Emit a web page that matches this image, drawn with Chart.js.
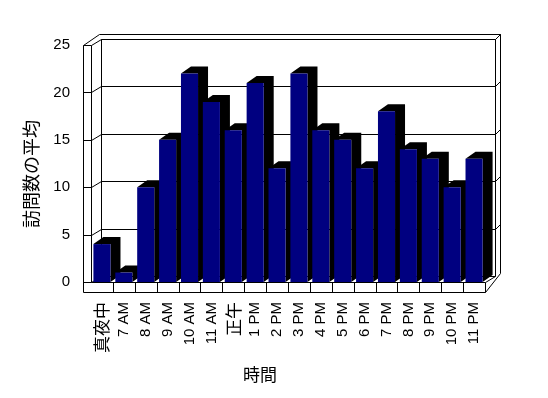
<!DOCTYPE html>
<html>
<head>
<meta charset="utf-8">
<script src="https://cdn.jsdelivr.net/npm/chart.js@4"></script>
<style>
html,body{margin:0;padding:0;background:#ffffff;}
#wrap{width:548px;height:398px;}
</style>
</head>
<body>
<div id="wrap"><canvas id="c" width="548" height="398"></canvas></div>
<script>
const categories = ['真夜中','7 AM','8 AM','9 AM','10 AM','11 AM','正午','1 PM','2 PM','3 PM','4 PM','5 PM','6 PM','7 PM','8 PM','9 PM','10 PM','11 PM'];
const visits = [4,1,10,15,22,19,16,21,12,22,16,15,12,18,14,13,10,13];
const yTicks = [0,5,10,15,20,25];
const yTitle = '訪問数の平均';
const xTitle = '時間';

const LATIN = '"Liberation Sans", Arial, sans-serif';
const CJK = '"Noto Sans CJK JP", "Noto Sans", sans-serif';

function line(ctx, x1, y1, x2, y2) {
  ctx.beginPath();
  ctx.moveTo(Math.round(x1) + 0.5, Math.round(y1) + 0.5);
  ctx.lineTo(Math.round(x2) + 0.5, Math.round(y2) + 0.5);
  ctx.stroke();
}

const box3d = {
  id: 'box3d',
  beforeDatasetsDraw(chart) {
    const ctx = chart.ctx;
    const a = chart.chartArea;
    const ys = chart.scales.y;
    const L = a.left, R = a.right;
    const B = ys.getPixelForValue(yTicks[0]);
    const T = ys.getPixelForValue(yTicks[yTicks.length - 1]);
    const DX = 10, DY = 6;     // depth of the plot box
    const WT = 8;              // left wall thickness (front)
    const FT = 10;             // floor thickness (front)
    const BT = 5;              // back wall thickness
    ctx.save();
    ctx.strokeStyle = '#000';
    ctx.lineWidth = 1;
    // back wall
    line(ctx, L + DX, T - DY, R + DX, T - DY);
    line(ctx, L + DX - 2, T - DY - BT, R + DX + BT, T - DY - BT);
    line(ctx, L + DX, T - DY, L + DX, B - DY);
    line(ctx, R + DX, T - DY, R + DX, B - DY);
    line(ctx, R + DX + BT, T - DY - BT, R + DX + BT, B - DY - 3);
    line(ctx, R + DX, T - DY, R + DX + BT, T - DY - BT);
    // gridlines on back wall and left wall
    yTicks.forEach(v => {
      const yy = ys.getPixelForValue(v);
      line(ctx, L - WT, yy, L, yy);
      line(ctx, L, yy, L + DX, yy - DY);
      if (v !== yTicks[0]) {
        line(ctx, L + DX, yy - DY, R + DX, yy - DY);
        line(ctx, R + DX, yy - DY, R + DX + BT, yy - DY - BT);
      }
    });
    // floor back edge
    line(ctx, L + DX, B - DY, R + DX, B - DY);
    // left wall
    line(ctx, L - WT, T, L - WT, B + FT);
    line(ctx, L, T, L, B);
    line(ctx, L - WT, T, L + DX - 2, T - DY - BT);
    // floor
    line(ctx, L, B, R, B);
    line(ctx, L - WT, B + FT, R, B + FT);
    line(ctx, R, B, R, B + FT);
    line(ctx, R, B, R + DX, B - DY);
    line(ctx, R, B + FT, R + DX + BT, B - DY - 3);
    const n = categories.length;
    for (let i = 1; i < n; i++) {
      const xb = L + (R - L) * i / n;
      line(ctx, xb, B, xb, B + FT);
    }
    // bar sides and tops
    const meta = chart.getDatasetMeta(0);
    const BDX = 10, BDY = 7;
    ctx.fillStyle = '#000';
    meta.data.forEach(bar => {
      const l = bar.x - bar.width / 2, r = bar.x + bar.width / 2;
      const top = bar.y, base = bar.base;
      ctx.beginPath();
      ctx.moveTo(l, top);
      ctx.lineTo(l + BDX, top - BDY);
      ctx.lineTo(r + BDX, top - BDY);
      ctx.lineTo(r + BDX, base - BDY);
      ctx.lineTo(r, base);
      ctx.lineTo(r, top);
      ctx.closePath();
      ctx.fill();
    });
    ctx.restore();
  },
  afterDraw(chart) {
    const ctx = chart.ctx;
    ctx.save();
    ctx.fillStyle = '#000';
    ctx.textAlign = 'center';
    ctx.textBaseline = 'middle';
    ctx.font = '17px ' + CJK;
    ctx.fillText(xTitle, 260, 375);
    ctx.translate(31, 174);
    ctx.rotate(-Math.PI / 2);
    ctx.font = '18px ' + CJK;
    ctx.fillText(yTitle, 0, 0);
    ctx.restore();
  }
};

new Chart(document.getElementById('c'), {
  type: 'bar',
  data: {
    labels: categories,
    datasets: [{
      data: visits,
      backgroundColor: '#000080',
      borderWidth: 0,
      barPercentage: 0.78,
      categoryPercentage: 1.0
    }]
  },
  options: {
    responsive: false,
    devicePixelRatio: 1,
    animation: false,
    layout: { padding: { left: 0, right: 63, top: 45, bottom: 0 } },
    plugins: { legend: { display: false }, tooltip: { enabled: false }, title: { display: false } },
    scales: {
      x: {
        grid: { display: false },
        border: { display: false },
        ticks: {
          autoSkip: false,
          minRotation: 90,
          maxRotation: 90,
          padding: 12,
          color: '#000',
          font: (c) => /[^\x00-\x7F]/.test(categories[c.index] || '') ? { family: CJK, size: 17 } : { family: LATIN, size: 15 }
        },
        afterFit: (s) => { s.height = 116; }
      },
      y: {
        min: 0,
        max: 25,
        grid: { display: false },
        border: { display: false },
        ticks: {
          stepSize: 5,
          padding: 13,
          color: '#000',
          font: { family: LATIN, size: 15 }
        },
        afterFit: (s) => { s.width = 91; }
      }
    }
  },
  plugins: [box3d]
});
</script>
</body>
</html>
